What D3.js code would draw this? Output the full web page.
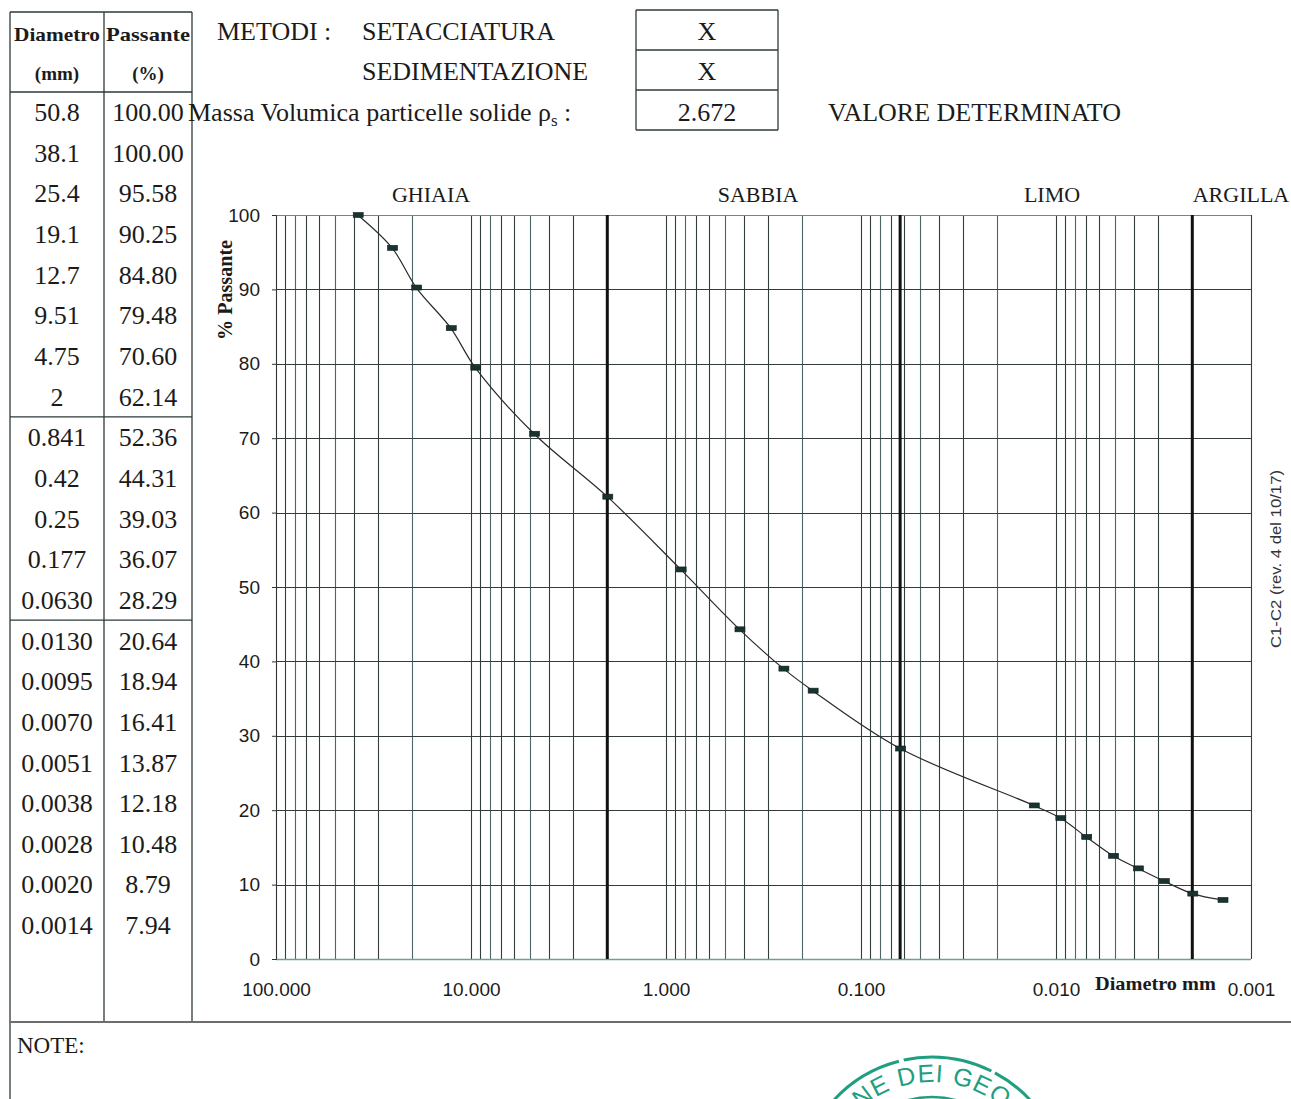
<!DOCTYPE html>
<html><head><meta charset="utf-8">
<script src="https://cdn.jsdelivr.net/npm/d3@7"></script>
<style>html,body{margin:0;padding:0;background:#fff;}svg{display:block;}</style>
</head><body>
<svg id="c" width="1291" height="1099"></svg>
<script>
// ---- data ----
const diamLabels = ["50.8","38.1","25.4","19.1","12.7","9.51","4.75","2","0.841","0.42","0.25","0.177","0.0630","0.0130","0.0095","0.0070","0.0051","0.0038","0.0028","0.0020","0.0014"];
const passing = [100.00,100.00,95.58,90.25,84.80,79.48,70.60,62.14,52.36,44.31,39.03,36.07,28.29,20.64,18.94,16.41,13.87,12.18,10.48,8.79,7.94];
const plottedFrom = 1; // the curve starts at 38.1 mm
const xTicks = [100, 10, 1, 0.1, 0.01, 0.001];
const yTicks = [0,10,20,30,40,50,60,70,80,90,100];
const boundaries = [2, 0.063, 0.002];
const classes = [{name:"GHIAIA", x:431},{name:"SABBIA", x:758},{name:"LIMO", x:1052},{name:"ARGILLA", x:1241}];
const metodi = [{label:"SETACCIATURA", mark:"X"},{label:"SEDIMENTAZIONE", mark:"X"}];
const density = "2.672";

(function(){
const svg = d3.select("#c");
const ink = "#1b1b1b";
const serif = "'Liberation Serif','Times New Roman',serif";
const sans = "'Liberation Sans',Arial,sans-serif";

// ---- scales ----
const x = d3.scaleLog().domain([100, 0.001]).range([276, 1251]);
const y = d3.scaleLinear().domain([0, 100]).range([959, 215]);

// ---- grid ----
const grid = [];
[10,1,0.1,0.01,0.001].forEach(d => { for (let m = 1; m <= 9; m++) { const v = +(m*d).toPrecision(3); if (v <= 100 && v >= 0.001) grid.push(v); } });
grid.push(100);
const g = svg.append("g");
g.selectAll("line.v").data(grid).join("line")
  .attr("x1", d => Math.round(x(d))+0.5).attr("x2", d => Math.round(x(d))+0.5)
  .attr("y1", y(100)).attr("y2", y(0))
  .attr("stroke", (d,i) => (i%3===1) ? "#4d6665" : "#333d3d").attr("stroke-width", 1.1);
g.selectAll("line.h").data(yTicks).join("line")
  .attr("x1", x(100)).attr("x2", x(0.001))
  .attr("y1", d => Math.round(y(d))+0.5).attr("y2", d => Math.round(y(d))+0.5)
  .attr("stroke", d => d===100 ? "#5f8e8c" : (d===0 ? "#6f9f96" : "#333b3b")).attr("stroke-width", d => d===0 ? 1.6 : 1.1);
g.selectAll("line.b").data(boundaries).join("line")
  .attr("x1", d => x(d)).attr("x2", d => x(d))
  .attr("y1", y(100)).attr("y2", y(0))
  .attr("stroke", "#111").attr("stroke-width", 3);

// y axis
const yAxis = svg.append("g").attr("transform", `translate(${x(100)},0)`)
  .call(d3.axisLeft(y).tickValues(yTicks).tickSize(4).tickPadding(12).tickFormat(d3.format("d")));
yAxis.select(".domain").attr("stroke", "#333");
yAxis.selectAll(".tick line").attr("stroke", "#333");
yAxis.selectAll("text").attr("font-family", sans).attr("font-size", 19).attr("fill", ink);

// x axis
const xAxis = svg.append("g").attr("transform", `translate(0,${y(0)})`)
  .call(d3.axisBottom(x).tickValues(xTicks).tickSize(0).tickPadding(24).tickFormat(d3.format(".3f")));
xAxis.select(".domain").remove();
xAxis.selectAll("text").attr("font-family", sans).attr("font-size", 19).attr("fill", ink);

// class labels
svg.selectAll("text.cls").data(classes).join("text")
  .attr("x", d => d.x).attr("y", 202).attr("text-anchor", "middle")
  .attr("font-family", serif).attr("font-size", 22).attr("fill", ink).text(d => d.name);

// axis titles
svg.append("text").attr("transform", "translate(232,290) rotate(-90)")
  .attr("text-anchor", "middle").attr("font-family", serif).attr("font-weight", "bold")
  .attr("font-size", 20).attr("fill", ink).attr("textLength", 100).attr("lengthAdjust", "spacingAndGlyphs").text("% Passante");
svg.append("text").attr("x", 1095).attr("y", 990)
  .attr("font-family", serif).attr("font-weight", "bold").attr("font-size", 19).attr("fill", ink)
  .attr("textLength", 121).attr("lengthAdjust", "spacingAndGlyphs").text("Diametro mm");
svg.append("text").attr("transform", "translate(1281,559) rotate(-90)")
  .attr("text-anchor", "middle").attr("font-family", sans).attr("font-size", 14).attr("fill", "#333")
  .attr("textLength", 178).attr("lengthAdjust", "spacingAndGlyphs").text("C1-C2  (rev. 4 del 10/17)");

// ---- curve + markers ----
const pts = diamLabels.map((s,i) => ({d:+s, p:passing[i]})).slice(plottedFrom);
svg.append("path").datum(pts)
  .attr("d", d3.line().x(d => x(d.d)).y(d => y(d.p)).curve(d3.curveCatmullRom.alpha(0.5)))
  .attr("fill", "none").attr("stroke", "#2a2a2a").attr("stroke-width", 1.2);
svg.selectAll("rect.m").data(pts).join("rect")
  .attr("x", d => x(d.d)-4.5).attr("y", d => y(d.p)-2.5).attr("width", 10).attr("height", 5)
  .attr("fill", "#183330").attr("stroke", "#0f1f1d").attr("stroke-width", 0.6);

// ---- left table ----
const T = svg.append("g");
const c0 = 10, c1 = 104, c2 = 192, tTop = 12, hdr = 92, rowH = 40.65, row0 = 112, tBottom = 1022;
const lineAttr = s => s.attr("stroke", "#2e3a3a").attr("stroke-width", 1.3);
lineAttr(T.append("line").attr("x1", c0).attr("x2", c2).attr("y1", tTop).attr("y2", tTop));
lineAttr(T.append("line").attr("x1", c0).attr("x2", c2).attr("y1", hdr).attr("y2", hdr));
lineAttr(T.append("line").attr("x1", c0).attr("x2", c0).attr("y1", tTop).attr("y2", 1099));
lineAttr(T.append("line").attr("x1", c1).attr("x2", c1).attr("y1", tTop).attr("y2", tBottom));
lineAttr(T.append("line").attr("x1", c2).attr("x2", c2).attr("y1", tTop).attr("y2", tBottom));
[7.5, 12.5].forEach(k => lineAttr(T.append("line").attr("x1", c0).attr("x2", c2).attr("y1", row0 + k*rowH).attr("y2", row0 + k*rowH)));
[["Diametro", 34, 57, 86],["(mm)", 73, 57, 0],["Passante", 34, 148, 84],["(%)", 73, 148, 0]].forEach(([t, yy, xx, len]) => {
  const e = T.append("text").attr("x", xx).attr("y", yy).attr("dy", "0.35em").attr("text-anchor", "middle")
    .attr("font-family", serif).attr("font-weight", "bold").attr("font-size", 19).attr("fill", ink).text(t);
  if (len) e.attr("textLength", len).attr("lengthAdjust", "spacingAndGlyphs");
});
T.selectAll("text.d").data(diamLabels).join("text")
  .attr("x", 57).attr("y", (d,i) => row0 + i*rowH).attr("dy", "0.35em").attr("text-anchor", "middle")
  .attr("font-family", serif).attr("font-size", 26).attr("fill", ink).text(d => d);
T.selectAll("text.p").data(passing).join("text")
  .attr("x", 148).attr("y", (d,i) => row0 + i*rowH).attr("dy", "0.35em").attr("text-anchor", "middle")
  .attr("font-family", serif).attr("font-size", 26).attr("fill", ink).text(d => d.toFixed(2));

// bottom separator and notes
svg.append("line").attr("x1", c0).attr("x2", 1291).attr("y1", tBottom).attr("y2", tBottom).attr("stroke", "#6d6d6d").attr("stroke-width", 2.2);
svg.append("text").attr("x", 17).attr("y", 1053).attr("font-family", serif).attr("font-size", 23).attr("fill", ink).text("NOTE:");

// ---- header block ----
const H = svg.append("g").attr("font-family", serif).attr("font-size", 26).attr("fill", ink);
H.append("text").attr("x", 217).attr("y", 40).text("METODI :");
H.selectAll("text.mt").data(metodi).join("text").attr("x", 362).attr("y", (d,i) => 40 + i*40).text(d => d.label);
const mass = H.append("text").attr("x", 188).attr("y", 121);
mass.append("tspan").text("Massa Volumica particelle solide ρ");
mass.append("tspan").attr("font-size", 17).attr("dy", 5).text("s");
mass.append("tspan").attr("dy", -5).text(" :");
const bx0 = 636, bx1 = 778;
[10, 50, 90, 130].forEach(yy => lineAttr(H.append("line").attr("x1", bx0).attr("x2", bx1).attr("y1", yy).attr("y2", yy)));
[bx0, bx1].forEach(xx => lineAttr(H.append("line").attr("x1", xx).attr("x2", xx).attr("y1", 10).attr("y2", 130)));
H.selectAll("text.mk").data(metodi).join("text").attr("x", (bx0+bx1)/2).attr("y", (d,i) => 40 + i*40).attr("text-anchor", "middle").text(d => d.mark);
H.append("text").attr("x", (bx0+bx1)/2).attr("y", 121).attr("text-anchor", "middle").text(density);
H.append("text").attr("x", 828).attr("y", 121).text("VALORE DETERMINATO");

// ---- stamp (partially visible) ----
const S = svg.append("g").attr("fill", "none").attr("stroke", "#1f9f80");
const cx = 932, cy = 1190;
S.append("circle").attr("cx", cx).attr("cy", cy).attr("r", 133).attr("stroke-width", 3).attr("stroke-dasharray", "90 4 200 5");
S.append("circle").attr("cx", cx).attr("cy", cy).attr("r", 93).attr("stroke-width", 2.5);
svg.append("path").attr("id", "arcp").attr("fill", "none")
  .attr("d", `M ${cx-108},${cy} A 108 108 0 0 1 ${cx+108},${cy}`);
svg.append("text").attr("font-family", sans).attr("font-size", 25).attr("fill", "#1f9f80").attr("letter-spacing", 1)
  .append("textPath").attr("href", "#arcp").attr("startOffset", "50%").attr("text-anchor", "middle").text("NE DEI GEO");
})();
</script>
</body></html>
